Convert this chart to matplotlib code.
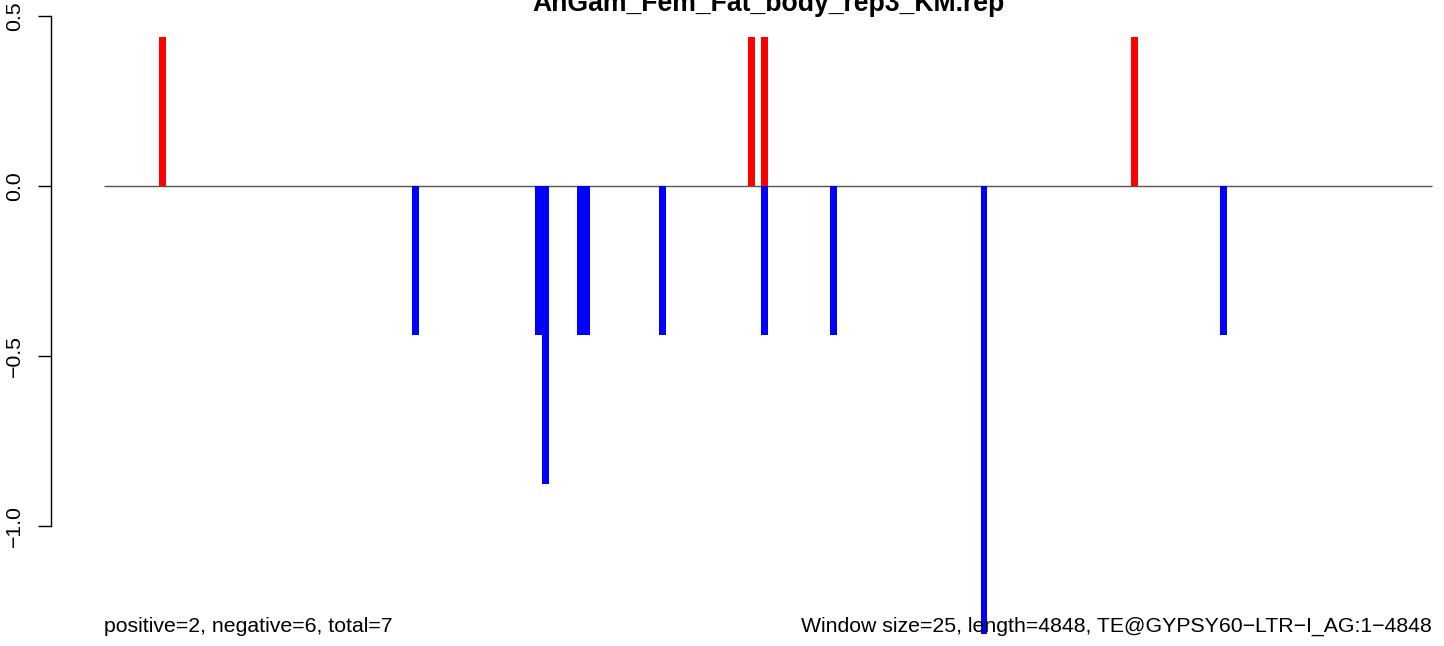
import matplotlib.pyplot as plt
import numpy as np

plt.rcParams['font.family'] = ['Liberation Sans', 'DejaVu Sans']

title = "AnGam_Fem_Fat_body_rep3_KM.rep"
seq_length = 4848
window = 25

# window centres (bp) and scores
pos_x = [212.5, 2362.5, 2412.5, 3762.5]
pos_y = [0.438, 0.438, 0.438, 0.438]

neg_x = [1137.5, 1587.5, 1612.5, 1737.5, 1762.5, 2037.5, 2412.5, 2662.5, 3212.5, 4087.5]
neg_y = [-0.438, -0.438, -0.877, -0.438, -0.438, -0.438, -0.438, -0.438, -1.315, -0.438]

yticks = [-1.0, -0.5, 0.0, 0.5]
ytick_labels = ['\u22121.0', '\u22120.5', '0.0', '0.5']

left_note = "positive=2, negative=6, total=7"
right_note = "Window size=25, length=4848, TE@GYPSY60\u2212LTR\u2212I_AG:1\u22124848"

W, H = 1444, 646
fig = plt.figure(figsize=(W / 100, H / 100), dpi=100)
ax = fig.add_axes([51 / W, 0, 1393 / W, 1])

# map bp -> px so that 0 sits at 104 and the full length at 1432
kx = (1432 - 104) / seq_length
x0 = -(104 - 51) / kx
ax.set_xlim(x0, x0 + 1393 / kx)
ky = (527 - 16.5) / 1.5
ax.set_ylim(-(H - 186) / ky, 186 / ky)

ax.hlines(0, 0, seq_length, color='#555555', lw=1.0, zorder=1)
ax.bar(pos_x, pos_y, width=window, color='#FF0000', linewidth=0, zorder=2)
ax.bar(neg_x, neg_y, width=window, color='#0000FF', linewidth=0, zorder=2)

# R-like axis
for s in ['top', 'right', 'bottom']:
    ax.spines[s].set_visible(False)
ax.spines['left'].set_bounds(-1.0, 0.5)
ax.spines['left'].set_linewidth(1.0)
ax.set_xticks([])
ax.set_yticks(yticks)
ax.set_yticklabels(ytick_labels, rotation=90, va='center', ha='right', fontsize=15.3)
ax.tick_params(axis='y', length=9.5, width=1.0, pad=10)

fig.text(768 / W, 1 - 11 / H, title, ha='center', va='baseline',
         fontsize=19.2, fontweight='bold')
fig.text(104 / W, 1 - 632 / H, left_note, ha='left', va='baseline', fontsize=15.3)
fig.text(1432 / W, 1 - 632 / H, right_note, ha='right', va='baseline', fontsize=15.3)

fig.savefig('out.png', dpi=100)
